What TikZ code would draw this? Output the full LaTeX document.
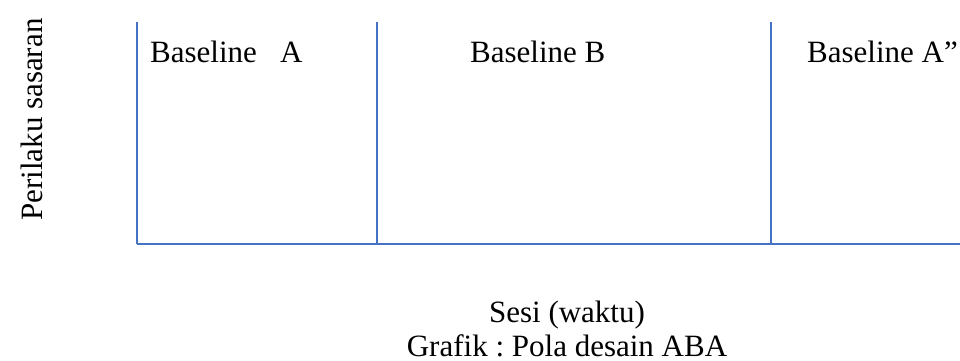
\documentclass[tikz,border=0pt]{standalone}
\usepackage{fontspec}
\setmainfont{Liberation Serif}
\frenchspacing
\definecolor{axisblue}{RGB}{68,114,196}
\begin{document}
\begin{tikzpicture}[x=1pt,y=-1pt,
  axisline/.style={draw=axisblue,line width=2pt},
  lbl/.style={inner sep=0pt,font=\fontsize{31}{37}\selectfont}]
\useasboundingbox (0,0) rectangle (960,361);
% axes and phase dividers
\coordinate (o) at (137,244);
\coordinate (top) at (137,22);
\coordinate (xend) at (960,244);
\coordinate (d1t) at (377,22);
\coordinate (d1b) at (377,243);
\coordinate (d2t) at (771,22);
\coordinate (d2b) at (771,243);
\draw[axisline] (top) -- (o);
\draw[axisline] (o) -- (xend);
\draw[axisline] (d1t) -- (d1b);
\draw[axisline] (d2t) -- (d2b);
% phase labels
\node[lbl,anchor=base west] (pa) at (150,63) {Baseline\ \ \ A};
\node[lbl,anchor=base west] (pb) at (470,63) {Baseline B};
\node[lbl,anchor=base west] (pc) at (807,63) {Baseline A”};
% axis titles
\node[lbl,anchor=base west,rotate=90] (ytitle) at (42,221) {Perilaku sasaran};
\node[lbl,anchor=base] (xtitle) at (567,322) {Sesi (waktu)};
\node[lbl,anchor=base] (caption) at (567,356) {Grafik : Pola desain ABA};
\end{tikzpicture}
\end{document}
